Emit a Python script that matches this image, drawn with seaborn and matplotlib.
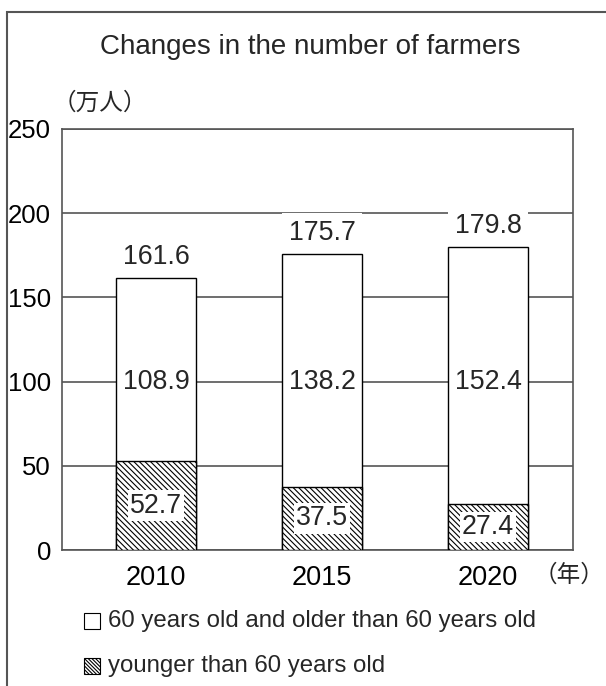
import matplotlib
matplotlib.use("Agg")
import matplotlib.pyplot as plt
from matplotlib.patches import Rectangle
import seaborn as sns
import pandas as pd

years = ["2010", "2015", "2020"]
older = [108.9, 138.2, 152.4]
younger = [52.7, 37.5, 27.4]
total = [161.6, 175.7, 179.8]
yticks = [0, 50, 100, 150, 200, 250]
title = "Changes in the number of farmers"
unit_y = "（万人）"
unit_x = "（年）"
legend_labels = ["60 years old and older than 60 years old", "younger than 60 years old"]

df = pd.DataFrame({"year": years, "total": total, "younger": younger, "older": older})

sns.set_theme(style="white")
plt.rcParams["font.family"] = ["Liberation Sans", "Noto Sans CJK JP", "DejaVu Sans"]
plt.rcParams["hatch.linewidth"] = 0.8

W, H = 606, 686
fig = plt.figure(figsize=(W / 100, H / 100), dpi=100)

def px(x, y):
    return (x / W, 1 - y / H)

ax = fig.add_axes([62 / W, 1 - 550 / H, (573 - 62) / W, (550 - 129) / H])
GRID = "#555555"
HATCH = "\\" * 6

sns.barplot(data=df, x="year", y="total", color="white", saturation=1,
            edgecolor="black", linewidth=1.0, width=0.48, ax=ax, zorder=2)
sns.barplot(data=df, x="year", y="younger", color="white", saturation=1,
            edgecolor="black", linewidth=1.0, width=0.48, hatch=HATCH, ax=ax, zorder=3)

ax.set_xlim(-0.566, 2.512)
ax.set_ylim(0, 250)
ax.set_yticks(yticks)
ax.set_xlabel("")
ax.set_ylabel("")
ax.yaxis.grid(True, color=GRID, linewidth=1.2)
ax.set_axisbelow(True)
for s in ax.spines.values():
    s.set_visible(True)
    s.set_color(GRID)
    s.set_linewidth(1.2)
ax.tick_params(axis="both", length=0, colors="black")
ax.tick_params(axis="y", pad=8, labelsize=18.5)
ax.tick_params(axis="x", pad=11, labelsize=19.5)

fs = 19.3
for i in range(3):
    ax.text(i, 100, f"{older[i]}", ha="center", va="center", fontsize=fs, zorder=5,
            bbox=dict(fc="white", ec="none", pad=2))
    ax.text(i, younger[i] / 2, f"{younger[i]}", ha="center", va="center", fontsize=fs, zorder=5,
            bbox=dict(fc="white", ec="none", pad=1.5))
    ax.text(i, total[i] + 12.5, f"{total[i]}", ha="center", va="center", fontsize=fs, zorder=5,
            bbox=dict(fc="white", ec="none", pad=5))

fig.text(*px(310, 47), title, ha="center", va="center", fontsize=20)
fig.text(*px(100, 104), unit_y, ha="center", va="center", fontsize=17)
fig.text(*px(604, 576), unit_x, ha="right", va="center", fontsize=17)

fig.add_artist(Rectangle(px(7, 700), (620 - 7) / W, (700 - 12) / H, transform=fig.transFigure,
                         fill=False, ec=GRID, lw=1.5, clip_on=False))

sq = 16
for j, (lab, yy) in enumerate(zip(legend_labels, [621, 666])):
    x0, y0 = px(84, yy + sq / 2)
    fig.add_artist(Rectangle((x0, y0), sq / W, sq / H, transform=fig.transFigure,
                             fc="white", ec="black", lw=0.8,
                             hatch=None if j == 0 else "\\" * 9))
    fig.text(*px(108, yy), lab, ha="left", va="center", fontsize=17.3)

fig.savefig("out.png", dpi=100)
